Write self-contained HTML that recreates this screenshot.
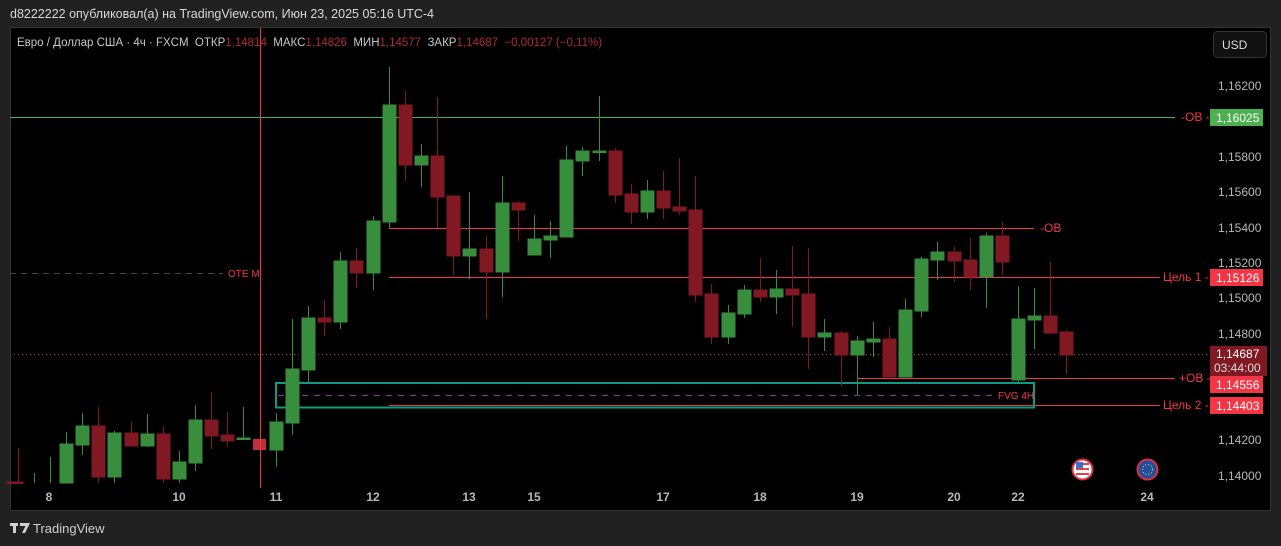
<!DOCTYPE html>
<html><head><meta charset="utf-8"><style>
html,body{margin:0;padding:0;background:#212121;width:1281px;height:546px;overflow:hidden}
svg text{font-family:"Liberation Sans","DejaVu Sans",sans-serif}
</style></head><body>
<svg width="1281" height="546" viewBox="0 0 1281 546" xmlns="http://www.w3.org/2000/svg">
<rect x="0" y="0" width="1281" height="546" fill="#212121"/>
<text x="10" y="18" font-size="12.5" fill="#d8d8d8">d8222222 опубликовал(а) на TradingView.com, Июн 23, 2025 05:16 UTC-4</text>
<rect x="10.5" y="27.5" width="1260" height="483" fill="#000" stroke="#333" stroke-width="1"/>
<line x1="1209.5" y1="28" x2="1209.5" y2="510" stroke="#000"/>
<text x="17" y="46" font-size="11.5" fill="#c8c8c8" xml:space="preserve" style="white-space:pre">Евро / Доллар США · 4ч · FXCM  ОТКР<tspan fill="#b02a35">1,14814</tspan>  МАКС<tspan fill="#b02a35">1,14826</tspan>  МИН<tspan fill="#b02a35">1,14577</tspan>  ЗАКР<tspan fill="#b02a35">1,14687</tspan>  <tspan fill="#b02a35">−0,00127 (−0,11%)</tspan></text>
<rect x="1213.5" y="31.5" width="53" height="26" rx="4" fill="#111" stroke="#333"/>
<text x="1222" y="49" font-size="12" fill="#ddd">USD</text>
<line x1="10" y1="117.5" x2="1175" y2="117.5" stroke="#4caf50" stroke-width="1"/>
<line x1="389" y1="228.5" x2="1034" y2="228.5" stroke="#f23645" stroke-width="1"/>
<line x1="389" y1="277.5" x2="1160" y2="277.5" stroke="#f23645" stroke-width="1"/>
<line x1="857" y1="378.5" x2="1175" y2="378.5" stroke="#f23645" stroke-width="1"/>
<line x1="389" y1="405.5" x2="1160" y2="405.5" stroke="#f23645" stroke-width="1"/>
<line x1="10" y1="354.5" x2="1209" y2="354.5" stroke="#b22833" stroke-width="1" stroke-dasharray="1,3"/>
<line x1="10" y1="273.5" x2="223" y2="273.5" stroke="#444" stroke-width="1" stroke-dasharray="6,5"/>
<text x="228" y="277" font-size="10" fill="#f23645">OTE M</text>
<line x1="278" y1="395.5" x2="995" y2="395.5" stroke="#9c27b0" stroke-width="1" stroke-dasharray="6,6"/>
<rect x="276" y="383" width="758" height="24.5" fill="none" stroke="#109985" stroke-width="2"/>
<text x="998" y="399" font-size="10" fill="#f23645">FVG 4H</text>
<text x="1181" y="121" font-size="12" fill="#f23645">-OB -</text>
<text x="1040" y="232" font-size="12" fill="#f23645">-OB</text>
<text x="1163" y="281" font-size="12" fill="#f23645">Цель 1 -</text>
<text x="1179" y="382" font-size="12" fill="#f23645">+OB -</text>
<text x="1163" y="409" font-size="12" fill="#f23645">Цель 2 -</text>
<g stroke-width="1">
<g fill="#801922" stroke="#801922">
<line x1="18.5" y1="448" x2="18.5" y2="483"/><rect x="7" y="482" width="16" height="1.5"/>
<line x1="98.5" y1="407" x2="98.5" y2="483"/><rect x="92" y="426" width="13" height="51"/>
<line x1="131.5" y1="422" x2="131.5" y2="446"/><rect x="125" y="433" width="13" height="13"/>
<line x1="163.5" y1="427" x2="163.5" y2="483"/><rect x="157" y="434" width="13" height="45"/>
<line x1="211.5" y1="392" x2="211.5" y2="449"/><rect x="205" y="420" width="13" height="16"/>
<line x1="227.5" y1="412" x2="227.5" y2="447"/><rect x="221" y="435" width="13" height="6"/>
<rect x="253" y="439" width="13" height="11" fill="#c0303a" stroke="none"/>
<line x1="324.5" y1="300" x2="324.5" y2="336"/><rect x="318" y="318" width="13" height="4"/>
<line x1="356.5" y1="248" x2="356.5" y2="288"/><rect x="350" y="261" width="13" height="12"/>
<line x1="405.5" y1="91" x2="405.5" y2="181"/><rect x="399" y="105" width="13" height="60"/>
<line x1="437.5" y1="97" x2="437.5" y2="228"/><rect x="431" y="156" width="13" height="41"/>
<line x1="453.5" y1="196" x2="453.5" y2="275"/><rect x="447" y="196" width="13" height="60"/>
<line x1="486.5" y1="236" x2="486.5" y2="319"/><rect x="480" y="249" width="13" height="23"/>
<line x1="518.5" y1="201" x2="518.5" y2="241"/><rect x="512" y="203" width="13" height="7"/>
<line x1="615.5" y1="148" x2="615.5" y2="203"/><rect x="609" y="151" width="13" height="44"/>
<line x1="631.5" y1="184" x2="631.5" y2="224"/><rect x="625" y="194" width="13" height="18"/>
<line x1="663.5" y1="171" x2="663.5" y2="219"/><rect x="657" y="191" width="13" height="17"/>
<line x1="679.5" y1="158" x2="679.5" y2="215"/><rect x="673" y="207" width="13" height="4"/>
<line x1="695.5" y1="176" x2="695.5" y2="302"/><rect x="689" y="210" width="13" height="85"/>
<line x1="711.5" y1="284" x2="711.5" y2="344"/><rect x="705" y="294" width="13" height="43"/>
<line x1="760.5" y1="258" x2="760.5" y2="302"/><rect x="754" y="290" width="13" height="7"/>
<line x1="792.5" y1="246" x2="792.5" y2="327"/><rect x="786" y="289" width="13" height="6"/>
<line x1="808.5" y1="248" x2="808.5" y2="369"/><rect x="802" y="294" width="13" height="43"/>
<line x1="841.5" y1="331" x2="841.5" y2="387"/><rect x="835" y="333" width="13" height="22"/>
<line x1="889.5" y1="327" x2="889.5" y2="379"/><rect x="883" y="339" width="13" height="38"/>
<line x1="954.5" y1="247" x2="954.5" y2="282"/><rect x="948" y="252" width="13" height="9"/>
<line x1="970.5" y1="238" x2="970.5" y2="290"/><rect x="964" y="260" width="13" height="17"/>
<line x1="1002.5" y1="222" x2="1002.5" y2="275"/><rect x="996" y="236" width="13" height="26"/>
<line x1="1050.5" y1="262" x2="1050.5" y2="334"/><rect x="1044" y="316" width="13" height="17"/>
<line x1="1066.5" y1="330" x2="1066.5" y2="374"/><rect x="1060" y="332" width="13" height="23"/>
</g>
<g fill="#388e3c" stroke="#388e3c">
<line x1="34.5" y1="473" x2="34.5" y2="483"/>
<line x1="50.5" y1="457" x2="50.5" y2="483"/>
<line x1="66.5" y1="432" x2="66.5" y2="483"/><rect x="60" y="444" width="13" height="39"/>
<line x1="82.5" y1="413" x2="82.5" y2="455"/><rect x="76" y="426" width="13" height="19"/>
<line x1="114.5" y1="431" x2="114.5" y2="483"/><rect x="108" y="433" width="13" height="44"/>
<line x1="147.5" y1="414" x2="147.5" y2="447"/><rect x="141" y="434" width="13" height="12"/>
<line x1="179.5" y1="451" x2="179.5" y2="483"/><rect x="173" y="462" width="13" height="17"/>
<line x1="195.5" y1="405" x2="195.5" y2="471"/><rect x="189" y="420" width="13" height="43"/>
<line x1="243.5" y1="407" x2="243.5" y2="440"/><rect x="237" y="438" width="13" height="1.5"/>
<line x1="276.5" y1="413" x2="276.5" y2="467"/><rect x="270" y="422" width="13" height="28"/>
<line x1="292.5" y1="319" x2="292.5" y2="435"/><rect x="286" y="369" width="13" height="54"/>
<line x1="308.5" y1="306" x2="308.5" y2="382"/><rect x="302" y="318" width="13" height="52"/>
<line x1="340.5" y1="252" x2="340.5" y2="329"/><rect x="334" y="261" width="13" height="61"/>
<line x1="373.5" y1="216" x2="373.5" y2="290"/><rect x="367" y="221" width="13" height="52"/>
<line x1="389.5" y1="67" x2="389.5" y2="228"/><rect x="383" y="105" width="13" height="117"/>
<line x1="421.5" y1="144" x2="421.5" y2="187"/><rect x="415" y="156" width="13" height="9"/>
<line x1="469.5" y1="192" x2="469.5" y2="279"/><rect x="463" y="249" width="13" height="7"/>
<line x1="502.5" y1="176" x2="502.5" y2="297"/><rect x="496" y="203" width="13" height="69"/>
<line x1="534.5" y1="215" x2="534.5" y2="255"/><rect x="528" y="239" width="13" height="16"/>
<line x1="550.5" y1="221" x2="550.5" y2="258"/><rect x="544" y="236" width="13" height="4"/>
<line x1="566.5" y1="146" x2="566.5" y2="237"/><rect x="560" y="160" width="13" height="77"/>
<line x1="582.5" y1="147" x2="582.5" y2="176"/><rect x="576" y="151" width="13" height="10"/>
<line x1="599.5" y1="96" x2="599.5" y2="161"/><rect x="593" y="151" width="13" height="1.5"/>
<line x1="647.5" y1="180" x2="647.5" y2="219"/><rect x="641" y="191" width="13" height="21"/>
<line x1="728.5" y1="305" x2="728.5" y2="344"/><rect x="722" y="313" width="13" height="24"/>
<line x1="744.5" y1="285" x2="744.5" y2="318"/><rect x="738" y="290" width="13" height="24"/>
<line x1="776.5" y1="270" x2="776.5" y2="314"/><rect x="770" y="289" width="13" height="8"/>
<line x1="824.5" y1="319" x2="824.5" y2="351"/><rect x="818" y="333" width="13" height="4"/>
<line x1="857.5" y1="336" x2="857.5" y2="395"/><rect x="851" y="341" width="13" height="14"/>
<line x1="873.5" y1="322" x2="873.5" y2="357"/><rect x="867" y="339" width="13" height="3"/>
<line x1="905.5" y1="299" x2="905.5" y2="377"/><rect x="899" y="310" width="13" height="67"/>
<line x1="921.5" y1="257" x2="921.5" y2="317"/><rect x="915" y="259" width="13" height="52"/>
<line x1="937.5" y1="242" x2="937.5" y2="280"/><rect x="931" y="252" width="13" height="8"/>
<line x1="986.5" y1="233" x2="986.5" y2="308"/><rect x="980" y="236" width="13" height="41"/>
<line x1="1018.5" y1="286" x2="1018.5" y2="382"/><rect x="1012" y="319" width="13" height="61"/>
<line x1="1034.5" y1="288" x2="1034.5" y2="349"/><rect x="1028" y="316" width="13" height="4"/>
</g>
</g>
<line x1="260.5" y1="28" x2="260.5" y2="488" stroke="#f23645" stroke-width="1"/>
<circle cx="1082.5" cy="469.5" r="10" fill="#fff" stroke="#e0303c" stroke-width="2"/>
<rect x="1076" y="463" width="13" height="2" fill="#e0404a"/><rect x="1076" y="468" width="13" height="2" fill="#e0404a"/><rect x="1076" y="473" width="13" height="2" fill="#e0404a"/>
<rect x="1076" y="462" width="7" height="6" fill="#3a6fd0"/>
<circle cx="1147.5" cy="469.5" r="10" fill="#1e4fa0" stroke="#e0303c" stroke-width="2"/>
<circle cx="1147.5" cy="469.5" r="5" fill="none" stroke="#f0c020" stroke-width="1.2" stroke-dasharray="1,2"/>
<g font-size="12" fill="#b8b8b8">
<text x="1218" y="90">1,16200</text>
<text x="1218" y="161">1,15800</text>
<text x="1218" y="196">1,15600</text>
<text x="1218" y="232">1,15400</text>
<text x="1218" y="267">1,15200</text>
<text x="1218" y="302">1,15000</text>
<text x="1218" y="338">1,14800</text>
<text x="1218" y="444">1,14200</text>
<text x="1218" y="480">1,14000</text>
</g>
<rect x="1210" y="109" width="53" height="17" fill="#4caf50"/>
<text x="1216" y="122" font-size="12" fill="#fff">1,16025</text>
<rect x="1210" y="269" width="53" height="17" fill="#f23645"/>
<text x="1216" y="282" font-size="12" fill="#fff">1,15126</text>
<rect x="1210" y="346" width="57" height="30" fill="#801922"/>
<text x="1216" y="358" font-size="12" fill="#fff">1,14687</text>
<text x="1214" y="372" font-size="12" fill="#ddd">03:44:00</text>
<rect x="1210" y="376" width="53" height="17" fill="#f23645"/>
<text x="1216" y="389" font-size="12" fill="#fff">1,14556</text>
<rect x="1210" y="397" width="53" height="17" fill="#f23645"/>
<text x="1216" y="410" font-size="12" fill="#fff">1,14403</text>
<g font-size="12" fill="#b8b8b8" font-weight="bold" text-anchor="middle">
<text x="49" y="501">8</text><text x="179" y="501">10</text><text x="276" y="501">11</text>
<text x="373" y="501">12</text><text x="469" y="501">13</text><text x="534" y="501">15</text>
<text x="663" y="501">17</text><text x="760" y="501">18</text><text x="857" y="501">19</text>
<text x="954" y="501">20</text><text x="1018" y="501">22</text><text x="1147" y="501">24</text>
</g>
<g fill="#d0d0d0"><rect x="10" y="523" width="8" height="3"/><rect x="13" y="523" width="3" height="10"/><rect x="20" y="523" width="9" height="3"/><polygon points="22,533 27,523 30,523 25,533"/></g>
<text x="33" y="533" font-size="13" fill="#d0d0d0">TradingView</text>
</svg>
</body></html>
